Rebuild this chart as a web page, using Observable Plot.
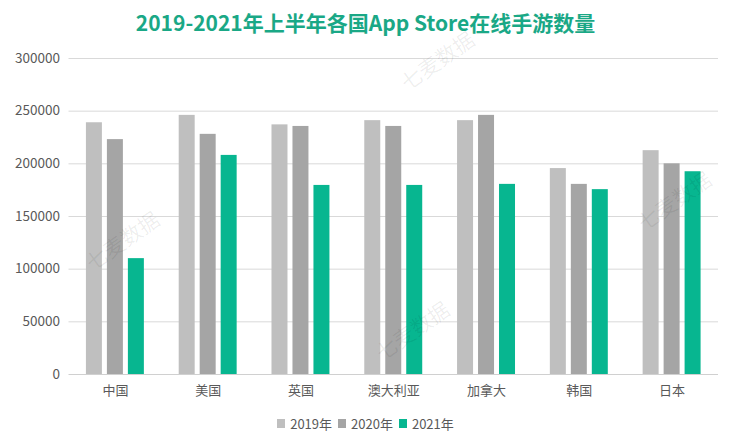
<!DOCTYPE html>
<html>
<head>
<meta charset="utf-8">
<script src="https://cdn.jsdelivr.net/npm/d3@7"></script>
<script src="https://cdn.jsdelivr.net/npm/@observablehq/plot@0.6"></script>
<style>
  html, body { margin: 0; padding: 0; background: #fff; }
  body { width: 731px; height: 446px; position: relative; overflow: hidden; font-family: "Noto Sans CJK SC", "Noto Sans", sans-serif; }
  #title { height: 44px; line-height: 44px; text-align: center; font-size: 21px; font-weight: bold; color: #1aa886; }
  #legend { display: flex; justify-content: center; align-items: center; gap: 6px; height: 38px; font-size: 13px; color: #595959; }
  #legend .item { display: flex; align-items: center; gap: 5px; }
  #legend .sw { width: 8px; height: 9px; display: inline-block; }
  .wm { position: absolute; font-size: 21px; color: rgba(0,0,0,0.07); transform: rotate(-35deg); white-space: nowrap; pointer-events: none; }
</style>
</head>
<body>
<div id="title">2019-2021年上半年各国App Store在线手游数量</div>
<div id="chart"></div>
<div id="legend"></div>
<script>
const countries = ["中国", "美国", "英国", "澳大利亚", "加拿大", "韩国", "日本"];
const years = ["2019年", "2020年", "2021年"];
const values2019 = [239000, 246000, 237000, 241000, 241000, 195500, 212500];
const values2020 = [223000, 228000, 235500, 235500, 246000, 180500, 200000];
const values2021 = [110000, 208000, 179500, 179500, 180500, 175500, 192500];
const yTicks = [0, 50000, 100000, 150000, 200000, 250000, 300000];
const colors = ["#bfbfbf", "#a5a5a5", "#07b690"];
const watermark = "七麦数据";

const series = [values2019, values2020, values2021];
const data = [];
countries.forEach((c, i) => {
  years.forEach((y, j) => data.push({country: c, year: y, value: series[j][i]}));
});

const width = 731, marginLeft = 68.5, marginRight = 13;
const padInner = 0.3754;
const step = (width - marginLeft - marginRight) / countries.length;
const bandwidth = step * (1 - padInner);
const barW = bandwidth * 16 / 58;
const gap = (bandwidth - 3 * barW) / 2;

const barMarks = years.map((y, j) =>
  Plot.barY(data.filter(d => d.year === y), {
    x: "country",
    y: "value",
    fill: "year",
    insetLeft: j * (barW + gap),
    insetRight: (2 - j) * (barW + gap)
  })
);

const chart = Plot.plot({
  width,
  height: 360,
  marginTop: 14,
  marginBottom: 30,
  marginLeft,
  marginRight,
  style: {fontFamily: "'Noto Sans CJK SC', 'Noto Sans', sans-serif", fontSize: "12px", color: "#595959", background: "transparent"},
  x: {domain: countries, round: false, paddingInner: padInner, paddingOuter: padInner / 2},
  y: {domain: [0, 300000]},
  color: {domain: years, range: colors},
  marks: [
    Plot.ruleY(yTicks.slice(1), {stroke: "#d9d9d9", strokeWidth: 1}),
    ...barMarks,
    Plot.ruleY([0], {stroke: "#d0d0d0", strokeWidth: 1}),
    Plot.axisY({ticks: yTicks, tickFormat: d3.format("d"), tickSize: 0, tickPadding: 9, label: null, fontSize: 13.5}),
    Plot.axisX({tickSize: 0, tickPadding: 11, label: null, fontSize: 13})
  ]
});
document.getElementById("chart").appendChild(chart);

const legend = document.getElementById("legend");
years.forEach((y, i) => {
  const item = document.createElement("span");
  item.className = "item";
  const sw = document.createElement("span");
  sw.className = "sw";
  sw.style.background = colors[i];
  const t = document.createElement("span");
  t.textContent = y;
  item.appendChild(sw);
  item.appendChild(t);
  legend.appendChild(item);
});

[[80, 225], [370, 315], [395, 45], [632, 185]].forEach(([l, t]) => {
  const d = document.createElement("div");
  d.className = "wm";
  d.textContent = watermark;
  d.style.left = l + "px";
  d.style.top = t + "px";
  document.body.appendChild(d);
});
</script>
</body>
</html>
